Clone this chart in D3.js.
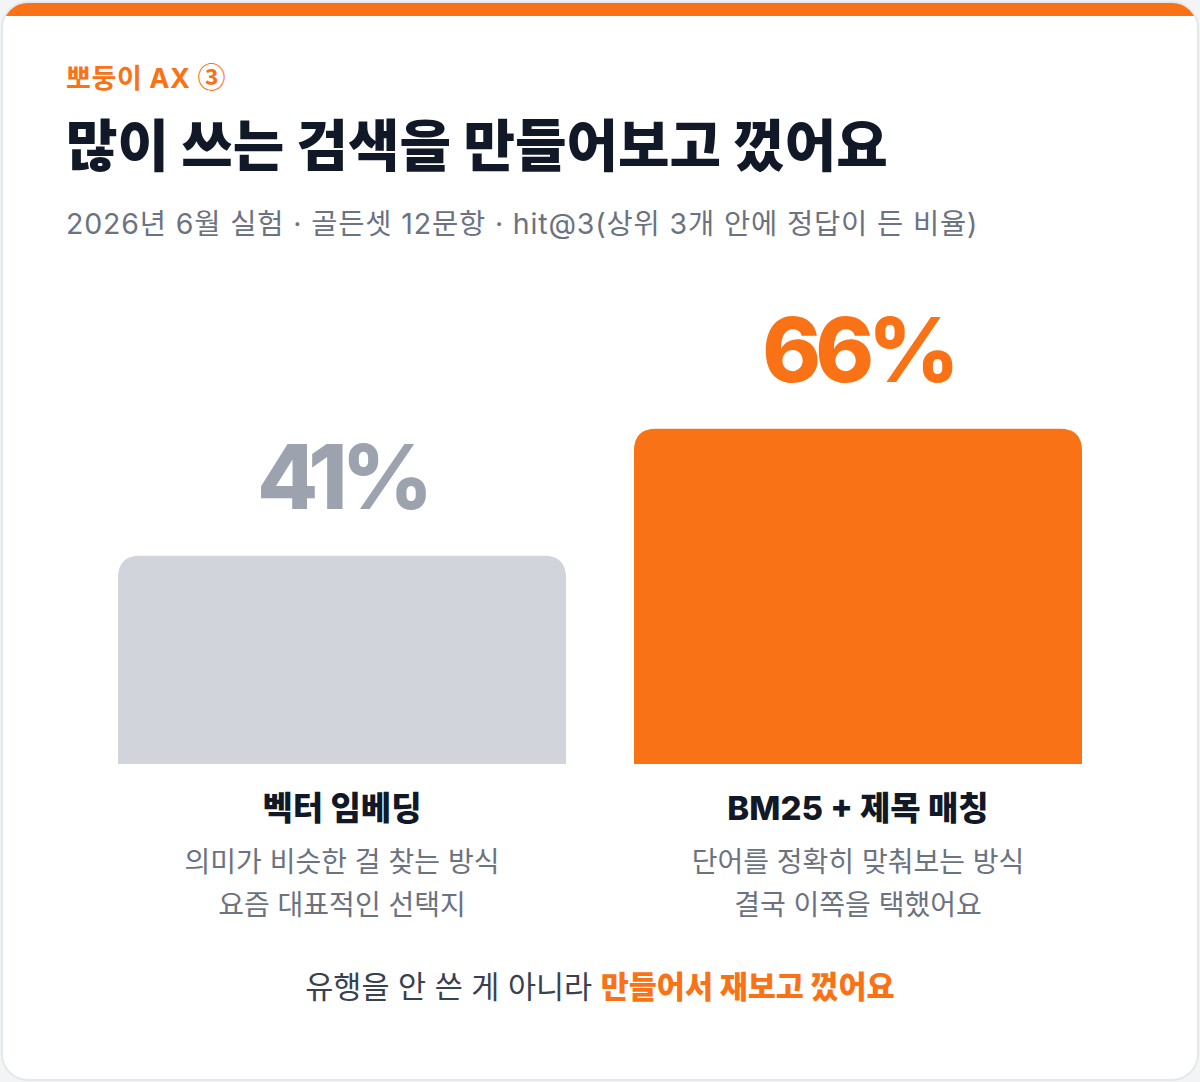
<!DOCTYPE html>
<html><head><meta charset="utf-8">
<script src="https://cdn.jsdelivr.net/npm/d3@7"></script>
<style>
html,body{margin:0;padding:0;background:#f3f4f6;}
svg{display:block;}
text{font-family:Inter,"Noto Sans CJK KR",sans-serif;}
</style></head>
<body>
<svg id="c" width="1200" height="1082"></svg>
<script>
const categories = ["벡터 임베딩", "BM25 + 제목 매칭"];
const values = [41, 66];
const valueLabels = ["41%", "66%"];
const descLine1 = ["의미가 비슷한 걸 찾는 방식", "단어를 정확히 맞춰보는 방식"];
const descLine2 = ["요즘 대표적인 선택지", "결국 이쪽을 택했어요"];
const eyebrow = "뽀둥이 AX";
const eyebrowMark = "③";
const title = "많이 쓰는 검색을 만들어보고 껐어요";
const subtitle = "2026년 6월 실험 · 골든셋 12문항 · hit@3(상위 3개 안에 정답이 든 비율)";
const footerPlain = "유행을 안 쓴 게 아니라 ";
const footerAccent = "만들어서 재보고 껐어요";

const barColors = ["#d1d5db", "#f97316"];
const labelColors = ["#9ca3af", "#f97316"];

const svg = d3.select("#c");
const W = 1200, H = 1082;

// card
const defs = svg.append("defs");
defs.append("clipPath").attr("id","card").append("rect")
  .attr("x",2).attr("y",2).attr("width",W-4).attr("height",H-4).attr("rx",26);
const card = svg.append("g").attr("clip-path","url(#card)");
card.append("rect").attr("x",2).attr("y",2).attr("width",W-4).attr("height",H-4).attr("fill","#ffffff");
card.append("rect").attr("x",0).attr("y",0).attr("width",W).attr("height",16).attr("fill","#f97316");
svg.append("rect").attr("x",2).attr("y",2).attr("width",W-4).attr("height",H-4).attr("rx",26)
  .attr("fill","none").attr("stroke","#e5e7eb").attr("stroke-width",2);

// header
const eb = svg.append("text").attr("x",66).attr("y",88)
  .attr("font-size",27).attr("font-weight",700).attr("fill","#f97316").attr("letter-spacing",0.6);
eb.append("tspan").text(eyebrow + " ");
eb.append("tspan").text(eyebrowMark).attr("font-family","'Noto Sans CJK KR'").attr("font-size",28);
svg.append("text").attr("x",66).attr("y",166).text(title)
  .attr("font-size",56).attr("font-weight",800).attr("fill","#111827").attr("letter-spacing",0);
svg.append("text").attr("x",66).attr("y",234).text(subtitle)
  .attr("font-size",28.5).attr("font-weight",400).attr("fill","#6b7280").attr("letter-spacing",0.85);

// scales
const x = d3.scaleBand().domain(categories).range([118,1082]).paddingInner(68/516).paddingOuter(0);
const y = d3.scaleLinear().domain([0,100]).range([764,256]);

function topRounded(x0,y0,w,h,r){
  return `M${x0},${y0+h}V${y0+r}Q${x0},${y0} ${x0+r},${y0}H${x0+w-r}Q${x0+w},${y0} ${x0+w},${y0+r}V${y0+h}Z`;
}

const g = svg.append("g");
categories.forEach((c,i)=>{
  const bx = x(c), bw = x.bandwidth(), by = y(values[i]), bh = y(0)-y(values[i]);
  const cx = bx + bw/2;
  g.append("path").attr("d", topRounded(bx,by,bw,bh,22)).attr("fill",barColors[i]);
  g.append("text").attr("x",cx).attr("y",by-47).attr("text-anchor","middle").text(valueLabels[i])
    .attr("font-size",89).attr("font-weight",800).attr("fill",labelColors[i]).attr("letter-spacing",-6);
  g.append("text").attr("x",cx).attr("y",820).attr("text-anchor","middle").text(c)
    .attr("font-size",33).attr("font-weight",800).attr("fill","#111827").attr("letter-spacing",0);
  g.append("text").attr("x",cx).attr("y",872).attr("text-anchor","middle").text(descLine1[i])
    .attr("font-size",28).attr("font-weight",400).attr("fill","#6b7280").attr("letter-spacing",0);
  g.append("text").attr("x",cx).attr("y",915).attr("text-anchor","middle").text(descLine2[i])
    .attr("font-size",28).attr("font-weight",400).attr("fill","#6b7280").attr("letter-spacing",0);
});

const ft = svg.append("text").attr("x",600).attr("y",998).attr("text-anchor","middle")
  .attr("font-size",30.5).attr("letter-spacing",0);
ft.append("tspan").text(footerPlain).attr("fill","#374151").attr("font-weight",400);
ft.append("tspan").text(footerAccent).attr("fill","#f97316").attr("font-weight",800);
</script>
</body></html>
